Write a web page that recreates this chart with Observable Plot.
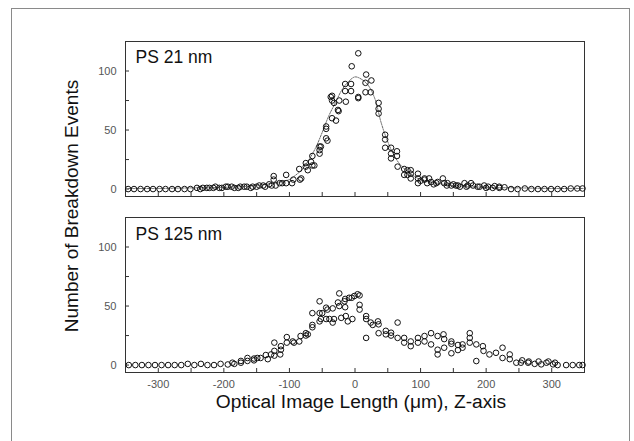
<!DOCTYPE html>
<html><head><meta charset="utf-8">
<script src="https://cdn.jsdelivr.net/npm/d3@7"></script>
<script src="https://cdn.jsdelivr.net/npm/@observablehq/plot@0.6"></script>
<style>
html,body{margin:0;padding:0;background:#fff;}
#wrap{position:relative;width:634px;height:441px;overflow:hidden;font-family:"Liberation Sans",Arial,sans-serif;background:#fff;}
#border{position:absolute;left:11px;top:8px;width:617px;height:460px;border:1px solid #8a8a8a;}
.panel{position:absolute;left:0;}
#ytitle{position:absolute;left:-128px;top:195px;width:400px;height:22px;line-height:22px;text-align:center;font-size:19px;color:#111;transform:rotate(-90deg);transform-origin:200px 11px;white-space:nowrap;}
#xtitle{position:absolute;left:61px;top:394px;width:600px;height:16px;line-height:16px;text-align:center;font-size:19.2px;color:#111;white-space:nowrap;}
</style>
</head><body>
<div id="wrap">
  <div id="border"></div>
  <div id="top" class="panel" style="top:0px"></div>
  <div id="bot" class="panel" style="top:200px"></div>
  <div id="ytitle"></div>
  <div id="xtitle"></div>
</div>
<script>
// ---- data ----
const panelLabels = ["PS 21 nm", "PS 125 nm"];
const xTitle = "Optical Image Length (\u03BCm), Z-axis";
const yTitle = "Number of Breakdown Events";
const xTickLabels = [-300, -200, -100, 0, 100, 200, 300];
const xMinorTicks = [-350,-300,-250,-200,-150,-100,-50,0,50,100,150,200,250,300,350];
const yTickLabels = [0, 50, 100];
const yMinorTicks = [0, 25, 50, 75, 100, 125];

// PS 21 nm measured points
const topX = [-346,-337,-327,-317,-308,-298,-289,-279,-270,-260,-251,-241,-232,-222,-213,-203,-194,-184,-175,-165,-156,-146,-137,-127,
  -236,-226,-216,-207,-197,-188,-178,-169,-159,-150,-140,-131,
  -124,-124,-121,-115,-111,-105,-105,-96,-94,-84,-85,-82,-75,-75,-72,-67,-65,-65,-62,-54,-54,-54,-52,-44,-44,-44,-42,-37,-35,-35,-35,-32,-29,-26,-25,-24,-15,-15,-14,-6,-6,-5,
  5,5,5,16,17,25,16,24,36,36,36,46,46,46,55,55,55,64,64,65,75,75,85,85,
  80,80,85,96,96,96,106,106,113,116,124,126,134,136,141,147,154,157,167,172,177,187,197,203,213,220,228,238,248,259,269,279,289,299,309,319,329,339,347,
  100,110,120,140,150,160,170,180,190,200,210,220];
const topY = [0,0,0,0,0,0,0,0,0,0,0,1,1,1,2,1,2,1,2,2,2,3,2,3,
  0,1,1,1,2,2,1,2,1,2,3,4,
  11,8,3,5,5,12,5,5,8,8,17,9,22,19,16,23,20,28,20,36,33,30,36,53,51,43,41,78,60,79,75,73,58,67,66,75,89,83,74,89,83,104,
  115,78,77,90,97,92,82,82,73,68,64,46,42,35,35,30,26,32,28,19,17,12,16,13,
  16,12,9,13,9,5,9,8,9,6,5,6,9,5,5,3,3,3,5,3,5,2,3,2,2.5,2,1.5,0,0,0.5,0,0,0,0,0,0,0.5,0.5,0.5,
  7,5,4,3,4,2,2,3,2,1,1,1];

// fitted curve through PS 21 nm data
const fitX = [-350,-300,-250,-200,-150,-125,-100,-90,-80,-70,-60,-50,-40,-30,-20,-10,0,10,20,30,40,50,60,70,80,90,100,125,150,200,250,300,350];
const fitY = [0.5,0.5,1,1.5,3,5,8,12,17,25,35,48,62,73,84,91,95,93,88,77,56,40,28,20,15,11,8,5,3,1.5,1,0.5,0.5];

// PS 125 nm measured points
const botX = [-345,-335,-325,-315,-305,-295,-285,-275,-265,-255,-245,-235,-225,-215,-205,-194,-187,-184,-174,-174,-164,-164,-154,-154,-149,-144,-136,-133,-128,-123,-123,-123,-114,-113,-113,
  -104,-104,-95,-93,-85,-83,-75,-75,-72,-65,-65,-65,-54,-54,-54,-52,-50,-44,-44,-42,-39,-34,-34,-32,-26,-24,-24,-21,-16,-15,-15,-14,-11,-9,-5,-4,-1,4,7,7,7,
  17,17,17,24,27,35,36,36,47,47,55,55,65,65,75,75,85,85,96,96,106,106,116,116,126,126,126,135,136,136,147,147,147,157,157,164,164,175,175,175,185,185,195,196,
  205,215,225,225,236,236,246,253,255,264,265,274,280,284,292,295,302,305,309,322,332,342,347];
const botY = [0,0,0,0,0,0,0,0,0,1,0,1,0,0,1,0.5,2,1,2,3.5,3.5,6,4,5.5,6,6,8.5,5,9,12,19,8,9,16,13,
  23.7,19,20,19,20,24.6,27,25,26,44,34,32,54,44,37,39,44,48.6,39,47,39,48,36,39,53,60.7,50,40,54,56,49,41.5,37,57,57,39,58.5,60,59,51,47,
  41.5,39,23,36,34,37,34.5,27,29,26,27.4,25,36,23,23,19,20,16,23,19,24.6,20,27,17.5,24.6,13,9,26,22,14.7,20,18,10,17,12.7,17.5,14.7,27,23,19,17.5,3.4,16,12,
  9,10.4,14.7,6,9,5,2,2,4,2,3,1,3,0.6,2,3,0.6,2,0,0,0,0,0];

// ---- drawing ----
const W = 634, ML = 125, MR = 50;
const yDomain = [-6.3, 125];
const xDomain = [-350, 350];
const frameH = 155, frameW = W - ML - MR;
const tickFont = "'Liberation Sans Narrow', 'Liberation Sans', sans-serif";

function panel(xs, ys, label, opts) {
  const pts = xs.map((x, i) => ({x, y: ys[i]}));
  const marks = [
    Plot.frame({stroke: "#333", strokeWidth: 1}),
    Plot.tickX(xMinorTicks, {x: d => d, stroke: "#333", strokeWidth: 1, insetTop: frameH - 4}),
    Plot.tickY(yMinorTicks, {y: d => d, stroke: "#333", strokeWidth: 1, insetRight: frameW - 4}),
    Plot.axisY(yTickLabels, {tickSize: 0, tickPadding: 9, fontSize: 11, fill: "#555", fontFamily: tickFont}),
  ];
  if (opts.xAxis) {
    marks.push(Plot.axisX(xTickLabels, {tickSize: 0, tickPadding: 8, fontSize: 11, fill: "#555", fontFamily: tickFont, tickFormat: d => d < 0 ? "-" + Math.abs(d) : String(d)}));
  } else {
    marks.push(Plot.axisX({ticks: [], label: null}));
  }
  if (opts.fit) {
    const fit = opts.fit[0].map((x, i) => ({x, y: opts.fit[1][i]}));
    marks.push(Plot.line(fit, {x: "x", y: "y", curve: "catmull-rom", stroke: "#555", strokeWidth: 0.9, strokeDasharray: "1.5 1.2"}));
  }
  marks.push(Plot.dot(pts, {x: "x", y: "y", r: 2.8, stroke: "#111", strokeWidth: 1, fill: "none"}));
  marks.push(Plot.text([label], {frameAnchor: "top-left", dx: 10, dy: opts.labelDy, lineAnchor: "top", textAnchor: "start", fontSize: 17.5, fill: "#111", fontFamily: "'Liberation Sans', Arial, sans-serif"}));
  return Plot.plot({
    width: W, height: 200,
    marginLeft: ML, marginRight: MR, marginTop: opts.mt, marginBottom: 200 - opts.mt - frameH,
    x: {domain: xDomain, label: null},
    y: {domain: yDomain, label: null},
    style: {background: "transparent", fontFamily: "'Liberation Sans', sans-serif", overflow: "visible"},
    marks
  });
}

document.getElementById("top").append(panel(topX, topY, panelLabels[0], {mt: 41, fit: [fitX, fitY], labelDy: 9}));
document.getElementById("bot").append(panel(botX, botY, panelLabels[1], {mt: 17, xAxis: true, labelDy: 10}));
document.getElementById("ytitle").textContent = yTitle;
document.getElementById("xtitle").textContent = xTitle;
</script>
</body></html>
